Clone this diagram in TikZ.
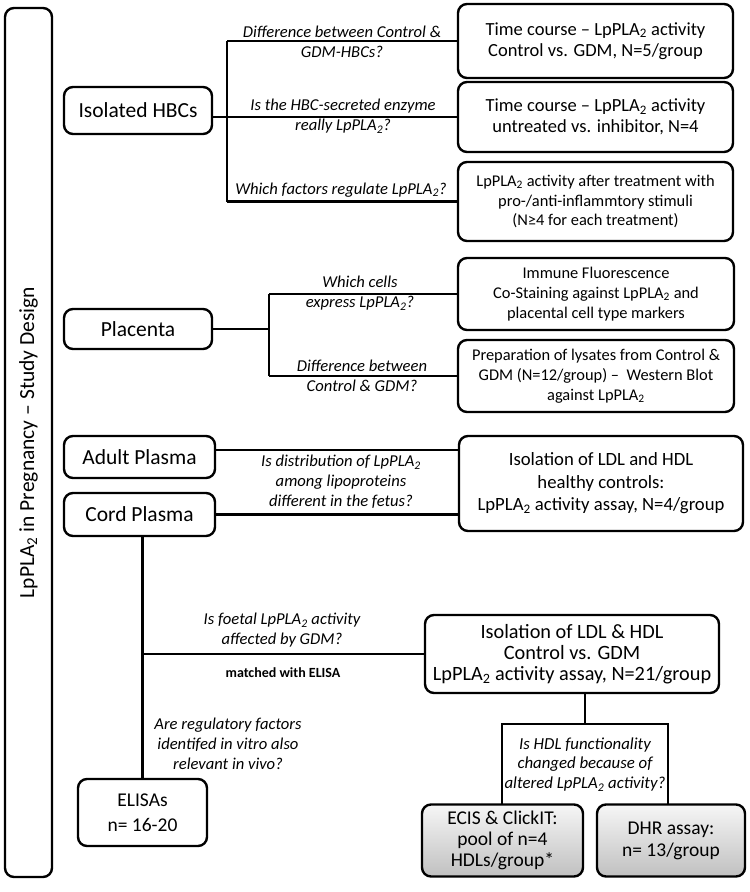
\documentclass[tikz,border=0pt]{standalone}
\usepackage{fontspec}
\setmainfont{Carlito}
\begin{document}
\begin{tikzpicture}[x=1pt,y=-1pt,
  bx/.style={draw, line width=2.4pt, rounded corners=9pt, align=center, inner sep=0pt},
  gbx/.style={bx, top color={rgb,255:red,246;green,246;blue,246}, bottom color={rgb,255:red,192;green,192;blue,192}},
  ln/.style={line width=2.1pt},
  lbl/.style={font=\fontsize{16.6}{20}\selectfont\itshape, align=center, inner sep=0pt},
  f18/.style={font=\fontsize{18.5}{21}\selectfont},
  f16/.style={font=\fontsize{16.4}{19.8}\selectfont},
  lft/.style={bx, font=\fontsize{21.5}{24}\selectfont}
]
\useasboundingbox (0,0) rectangle (750,892);
% title
\node[bx, rotate=90, minimum width=869pt, minimum height=47pt, font=\fontsize{21.5}{24}\selectfont] (title) at (28.5,442.5) {LpPLA\textsubscript{2} in Pregnancy – Study Design};
% left boxes
\node[lft, minimum width=148pt, minimum height=47pt] (hbc) at (138,110.5) {Isolated HBCs};
\node[lft, minimum width=148pt, minimum height=40pt] (plac) at (138,329) {Placenta};
\node[lft, minimum width=151pt, minimum height=42pt] (adult) at (139.5,457) {Adult Plasma};
\node[lft, minimum width=151pt, minimum height=43pt] (cord) at (139.5,514.5) {Cord Plasma};
\node[bx, minimum width=129pt, minimum height=67pt, font=\fontsize{19.5}{25}\selectfont] (elisa) at (142.5,812.5) {ELISAs\\n= 16-20};
% right boxes
\node[bx, f18, minimum width=275pt, minimum height=74pt] (b1) at (595.5,41) {Time course – LpPLA\textsubscript{2} activity\\Control vs. GDM, N=5/group};
\node[bx, f18, minimum width=275pt, minimum height=70pt] (b2) at (595.5,117) {Time course – LpPLA\textsubscript{2} activity\\untreated vs. inhibitor, N=4};
\node[bx, f16, minimum width=275pt, minimum height=79pt] (b3) at (595.5,201.5) {LpPLA\textsubscript{2} activity after treatment with\\pro-/anti-inflammtory stimuli\\(N≥4 for each treatment)};
\node[bx, f16, minimum width=276pt, minimum height=72pt] (b4) at (596,294) {Immune Fluorescence\\Co-Staining against LpPLA\textsubscript{2} and\\placental cell type markers};
\node[bx, f16, minimum width=276pt, minimum height=72pt] (b5) at (596,376) {Preparation of lysates from Control \&\\GDM (N=12/group) –\ \ Western Blot\\against LpPLA\textsubscript{2}};
\node[bx, font=\fontsize{18.7}{22.5}\selectfont, minimum width=284pt, minimum height=95pt] (b6) at (601,483.5) {Isolation of LDL and HDL\\healthy controls:\\LpPLA\textsubscript{2} activity assay, N=4/group};
\node[bx, font=\fontsize{20.3}{21}\selectfont, minimum width=294pt, minimum height=78pt] (b7) at (572,654) {Isolation of LDL \& HDL\\Control vs. GDM\\LpPLA\textsubscript{2} activity assay, N=21/group};
\node[gbx, font=\fontsize{19.5}{21}\selectfont, minimum width=161pt, minimum height=72pt] (ecis) at (502.5,840.5) {ECIS \& ClickIT:\\pool of n=4\\HDLs/group*};
\node[gbx, font=\fontsize{19.5}{22}\selectfont, minimum width=148pt, minimum height=72pt] (dhr) at (671,840.5) {DHR assay:\\n= 13/group};
% question rectangle
\node[lbl, font=\fontsize{16.8}{19.5}\selectfont\itshape, minimum width=166pt, minimum height=80pt] (q) at (585,764.5) {Is HDL functionality\\changed because of\\altered LpPLA\textsubscript{2} activity?};
\draw[ln] (q.south west) -- (q.north west) -- (q.north east) -- (q.south east);
\draw[ln] (b7.south -| q.north) -- (q.north);
% HBC bracket
\coordinate (jh) at (227,110.5);
\draw[ln] (hbc.east |- b2.west) -- (b2.west);
\draw[ln] (jh |- b1.west) -- (jh |- b3.west);
\draw[ln] (jh |- b1.west) -- (b1.west);
\draw[ln] (jh |- b3.west) -- (b3.west);
% placenta bracket
\coordinate (jp) at (269,328);
\draw[ln] (plac.east) -- (jp |- plac.east);
\draw[ln] (jp |- b4.west) -- (jp |- b5.west);
\draw[ln] (jp |- b4.west) -- (b4.west);
\draw[ln] (jp |- b5.west) -- (b5.west);
% plasma lines
\draw[ln] ([yshift=7pt]adult.east) -- ([yshift=7pt]adult.east -| b6.west);
\draw[ln] (cord.east) -- (cord.east -| b6.west);
\draw[ln] (elisa.north |- cord.south) -- (elisa.north);
\draw[ln] (elisa.north |- b7.west) -- (b7.west);
% labels
\node[lbl] (l1) at (342,41.5) {Difference between Control \&\\GDM-HBCs?};
\node[lbl] (l2) at (343,116.5) {Is the HBC-secreted enzyme\\really LpPLA\textsubscript{2}?};
\node[lbl] (l3) at (341,190) {Which factors regulate LpPLA\textsubscript{2}?};
\node[lbl] (l4) at (360,293) {Which cells\\express LpPLA\textsubscript{2}?};
\node[lbl] (l5) at (362,376) {Difference between\\Control \& GDM?};
\node[lbl] (l6) at (341,482) {Is distribution of LpPLA\textsubscript{2}\\among lipoproteins\\different in the fetus?};
\node[lbl] (l7) at (282,630.5) {Is foetal LpPLA\textsubscript{2} activity\\affected by GDM?};
\node[inner sep=0pt, font=\fontsize{14}{16}\selectfont\bfseries] (l8) at (283,673) {matched with ELISA};
\node[lbl] (l9) at (228,744) {Are regulatory factors\\identifed in vitro also\\relevant in vivo?};
\end{tikzpicture}
\end{document}
